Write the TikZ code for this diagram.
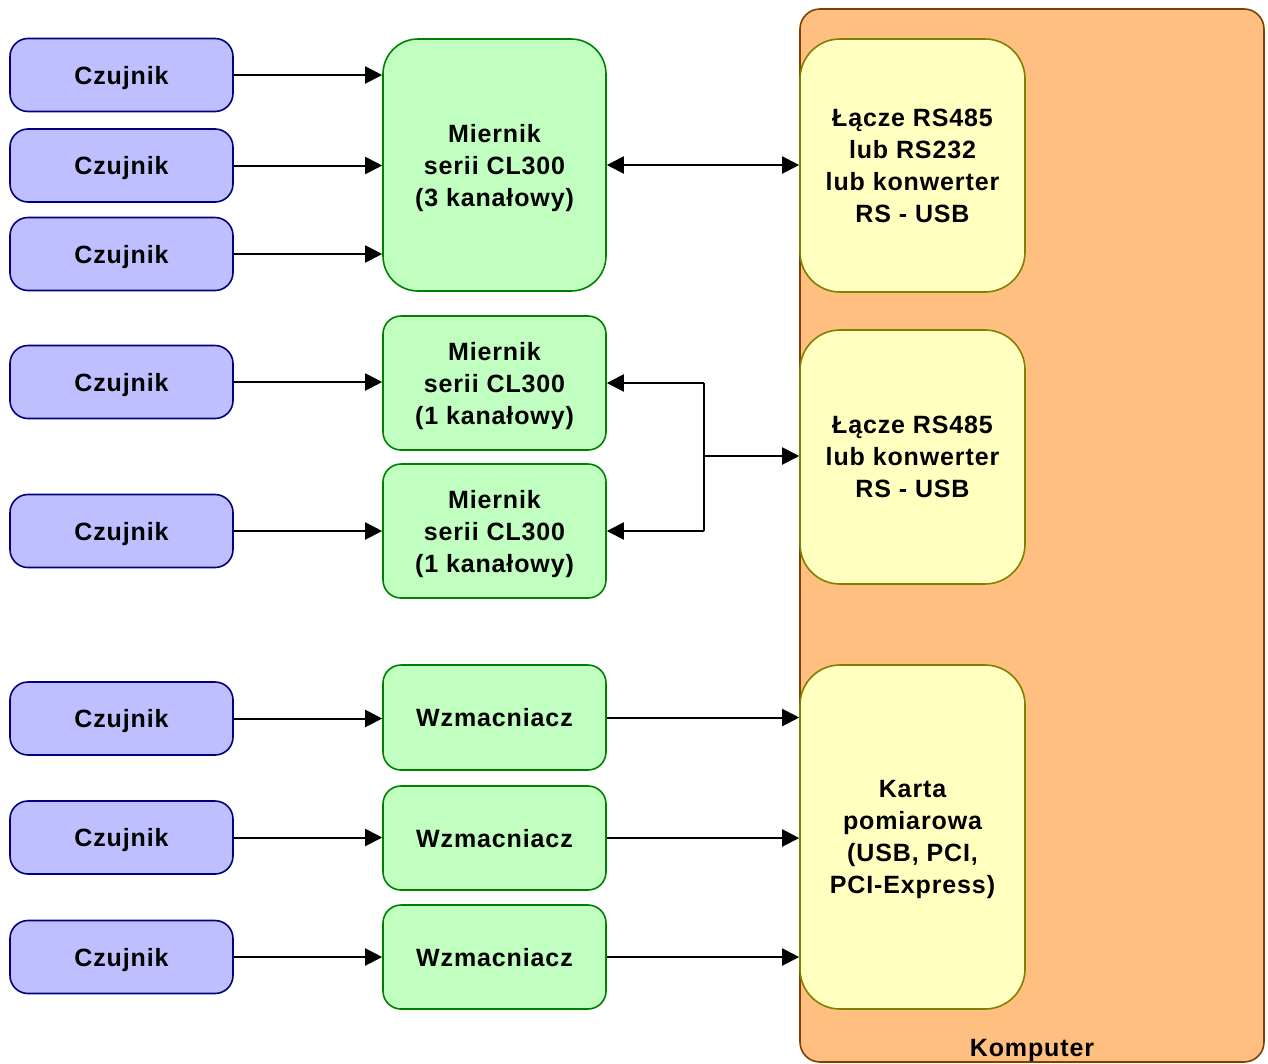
\documentclass[tikz,border=0pt]{standalone}
\usepackage{fontspec}
\setmainfont[LetterSpace=3.5]{Liberation Sans}
\usetikzlibrary{arrows.meta}
\definecolor{sensfill}{HTML}{BFBFFF}
\definecolor{sensdraw}{HTML}{000080}
\definecolor{grfill}{HTML}{C0FFC0}
\definecolor{grdraw}{HTML}{008000}
\definecolor{yefill}{HTML}{FFFFC0}
\definecolor{yedraw}{HTML}{808000}
\definecolor{orfill}{HTML}{FFBF80}
\definecolor{ordraw}{HTML}{804000}
\tikzset{
  x=1pt,y=1pt,
  box/.style={draw,line width=1.6pt,inner sep=0pt,align=center,text depth=0pt,
    font=\fontsize{25}{32}\selectfont\bfseries},
  sensor/.style={box,fill=sensfill,draw=sensdraw,rounded corners=18pt,
    minimum width=223pt,minimum height=73pt},
  meter/.style={box,fill=grfill,draw=grdraw,rounded corners=18pt,minimum width=223pt},
  link/.style={box,fill=yefill,draw=yedraw,rounded corners=40pt,minimum width=225pt},
  pcbox/.style={draw=ordraw,fill=orfill,line width=1.6pt,rounded corners=20pt,
    minimum width=464pt,minimum height=1053pt,inner sep=0pt},
  arr/.style={line width=2pt,-{Triangle[length=17pt,width=17pt]}},
  arrb/.style={line width=2pt,{Triangle[length=17pt,width=17pt]}-{Triangle[length=17pt,width=17pt]}},
  ln/.style={line width=2pt},
}
\begin{document}
\begin{tikzpicture}
\useasboundingbox (0,0) rectangle (1268,-1063);
% computer
\node[pcbox] (pc) at (1032,-535.5) {};
\node[font=\fontsize{25}{32}\selectfont\bfseries,inner sep=0pt,text depth=0pt] (pclab) at (1032,-1048) {Komputer};
% yellow links
\node[link,minimum height=253pt] (y1) at (912.5,-165.5) {Łącze RS485\\lub RS232\\lub konwerter\\RS - USB};
\node[link,minimum height=254pt] (y2) at (912.5,-457) {Łącze RS485\\lub konwerter\\RS - USB};
\node[link,minimum height=344pt] (y3) at (912.5,-837) {Karta\\pomiarowa\\(USB, PCI,\\PCI-Express)};
% sensors
\node[sensor] (c1) at (121.5,-75) {Czujnik};
\node[sensor] (c2) at (121.5,-165.5) {Czujnik};
\node[sensor] (c3) at (121.5,-254) {Czujnik};
\node[sensor] (c4) at (121.5,-382) {Czujnik};
\node[sensor] (c5) at (121.5,-531) {Czujnik};
\node[sensor] (c6) at (121.5,-718.5) {Czujnik};
\node[sensor] (c7) at (121.5,-837.5) {Czujnik};
\node[sensor] (c8) at (121.5,-957) {Czujnik};
% meters
\node[meter,rounded corners=35pt,minimum height=252pt] (m3) at (494.5,-165) {Miernik\\serii CL300\\(3 kanałowy)};
\node[meter,minimum height=134pt] (m1a) at (494.5,-383) {Miernik\\serii CL300\\(1 kanałowy)};
\node[meter,minimum height=134pt] (m1b) at (494.5,-531) {Miernik\\serii CL300\\(1 kanałowy)};
\node[meter,minimum height=105pt] (w1) at (494.5,-717.5) {Wzmacniacz};
\node[meter,minimum height=104pt] (w2) at (494.5,-838) {Wzmacniacz};
\node[meter,minimum height=104pt] (w3) at (494.5,-957) {Wzmacniacz};
% sensor arrows
\draw[arr] (c1.east) -- (c1.east -| m3.west);
\draw[arr] (c2.east) -- (c2.east -| m3.west);
\draw[arr] (c3.east) -- (c3.east -| m3.west);
\draw[arr] (c4.east) -- (c4.east -| m1a.west);
\draw[arr] (c5.east) -- (c5.east -| m1b.west);
\draw[arr] (c6.east) -- (c6.east -| w1.west);
\draw[arr] (c7.east) -- (c7.east -| w2.west);
\draw[arr] (c8.east) -- (c8.east -| w3.west);
% meter to computer
\draw[arrb] (m3.east) -- (m3.east -| y1.west);
\coordinate (j) at (704,-456);
\draw[ln] (j |- m1a.east) -- (j |- m1b.east);
\draw[arr] (j |- m1a.east) -- (m1a.east);
\draw[arr] (j |- m1b.east) -- (m1b.east);
\draw[arr] (j) -- (j -| y2.west);
\draw[arr] (w1.east) -- (w1.east -| y3.west);
\draw[arr] (w2.east) -- (w2.east -| y3.west);
\draw[arr] (w3.east) -- (w3.east -| y3.west);
\end{tikzpicture}
\end{document}
